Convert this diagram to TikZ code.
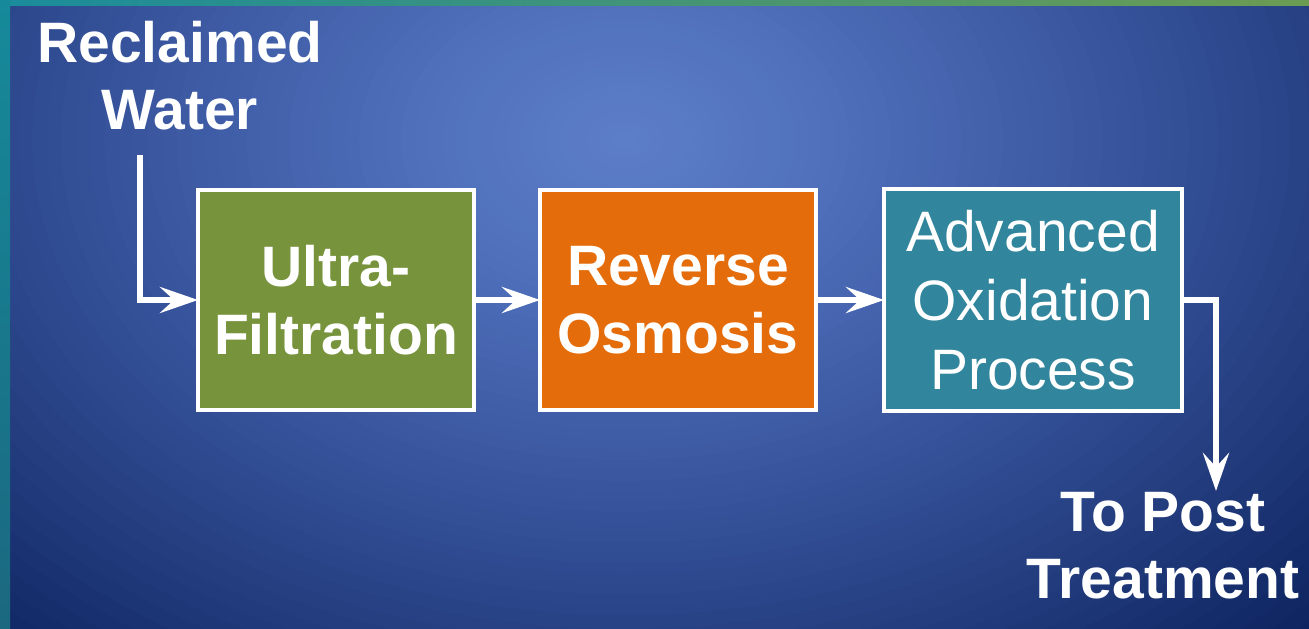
\documentclass[tikz,border=0pt]{standalone}
\usepackage{fontspec}
\setmainfont{Liberation Sans}
\usetikzlibrary{arrows.meta}
\definecolor{ufgreen}{HTML}{77933C}
\definecolor{roorange}{HTML}{E46C0A}
\definecolor{aopteal}{HTML}{31859C}
\definecolor{bgA}{HTML}{5D7EC9}
\definecolor{bgB}{HTML}{5070BB}
\definecolor{bgC}{HTML}{3E5BA5}
\definecolor{bgD}{HTML}{2A4589}
\definecolor{bgE}{HTML}{0E2460}
\definecolor{stripA}{HTML}{1A8C9C}
\definecolor{stripB}{HTML}{6B9C52}
\definecolor{sideA}{HTML}{168A9A}
\definecolor{sideB}{HTML}{1B6880}
\newcommand{\bgseg}[4]{%
  \foreach \j in {0,...,15}{%
    \pgfmathsetmacro\rr{#2-(#2-#1)*\j/16}%
    \pgfmathsetmacro\tt{100*\j/16}%
    \fill[#3!\tt!#4] (625,140) ellipse [x radius=1.4*\rr, y radius=\rr];
  }}
\tikzset{
  stagebox/.style={draw=white, line width=4pt, minimum width=276pt, minimum height=220pt,
    inner sep=0pt, outer sep=0pt, text=white, align=center,
    font=\bfseries\fontsize{57}{68}\selectfont},
  lbl/.style={text=white, align=center, inner sep=0pt,
    font=\bfseries\fontsize{57}{67}\selectfont},
  flow/.style={draw=white, line width=6pt, -{Stealth[length=38pt,width=26pt,inset=14pt]}}
}
\begin{document}
\begin{tikzpicture}[x=1pt,y=-1pt]
\useasboundingbox (0,0) rectangle (1309,629);
\begin{scope}
  \clip (0,0) rectangle (1309,629);
  \fill[bgE] (0,0) rectangle (1309,629);
  \bgseg{475}{700}{bgD}{bgE}
  \bgseg{310}{475}{bgC}{bgD}
  \bgseg{150}{310}{bgB}{bgC}
  \bgseg{0}{150}{bgA}{bgB}
\end{scope}
\shade[left color=stripA, right color=stripB] (0,0) rectangle (1309,5);
\shade[top color=sideA, bottom color=sideB] (0,0) rectangle (10,629);

\node[stagebox, fill=ufgreen] (uf) at (336,300) {Ultra-\\Filtration};
\node[stagebox, fill=roorange] (ro) at (678,300) {Reverse\\Osmosis};
\node[stagebox, fill=aopteal, minimum width=298pt, minimum height=222pt,
      font=\fontsize{57}{69}\selectfont] (aop) at (1033,300) {Advanced\\Oxidation\\Process};
\node[lbl] (src) at (180,76) {Reclaimed\\Water};
\node[lbl] (post) at (1163,546) {To Post\\Treatment};
\coordinate (in) at (140,155);
\coordinate (out) at (1216,491);

\draw[flow] (in) |- (uf.west);
\draw[flow] (uf.east) -- (ro.west);
\draw[flow] (ro.east) -- (aop.west);
\draw[flow] (aop.east) -| (out);
\end{tikzpicture}
\end{document}
